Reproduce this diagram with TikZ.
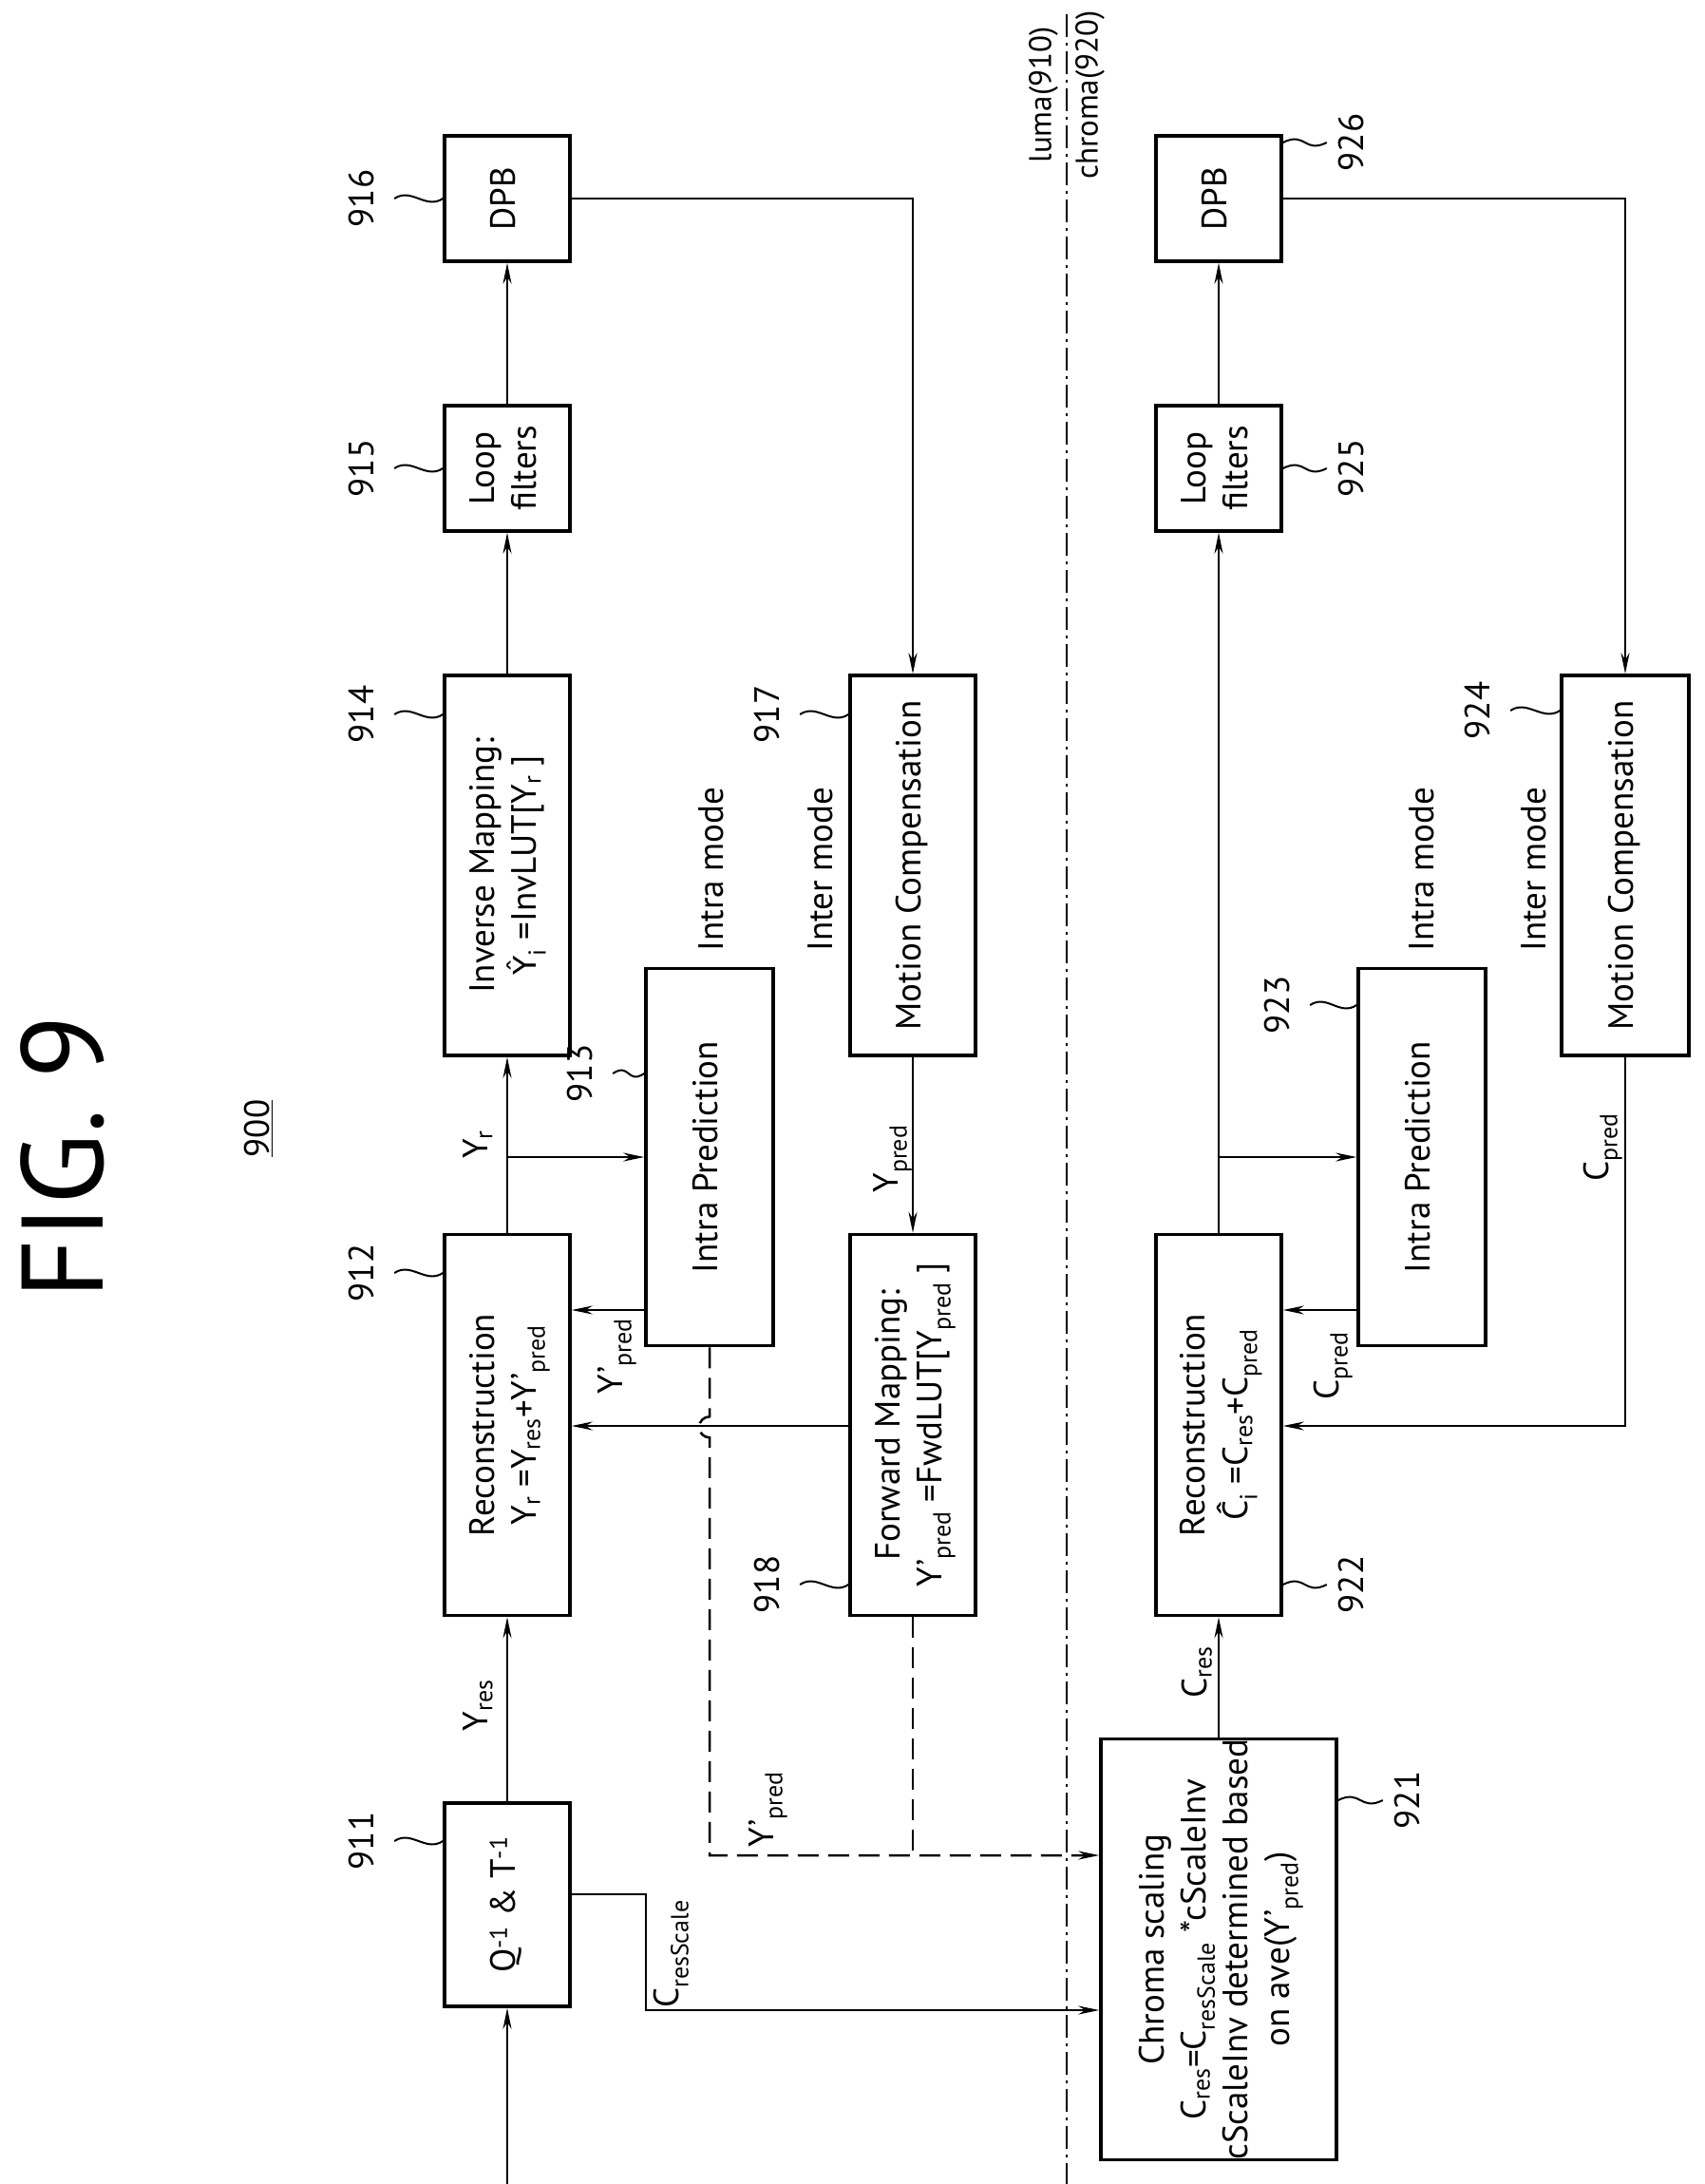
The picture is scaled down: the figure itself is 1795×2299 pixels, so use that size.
\documentclass[tikz,border=0pt]{standalone}
\usepackage{fontspec}
\setmainfont{PT Sans}
\newfontfamily\djv{DejaVu Sans}
\usetikzlibrary{arrows.meta}
\newcommand{\bfs}{\fontsize{37}{44}\selectfont}
\newcommand{\rtx}[1]{\rotatebox{90}{\begin{tabular}{@{}c@{}}#1\end{tabular}}}
\newcommand{\sub}[1]{\textsubscript{#1}}
\begin{document}
\begin{tikzpicture}[x=1pt,y=-1pt,
  box/.style={draw,line width=3.5pt,inner sep=0pt,font=\bfs},
  lb/.style={inner sep=0pt,font=\bfs},
  arr/.style={line width=2.5pt,-{Stealth[length=22pt,width=9pt]}},
  ln/.style={line width=2.5pt},
  dsh/.style={line width=2.5pt,dash pattern=on 22pt off 10pt},
  sq/.style={line width=2pt}]
\useasboundingbox (0,0) rectangle (1795,2299);
% boxes
\node[box,minimum width=132pt,minimum height=214pt] (q911) at (534,2005) {\rtx{Q\textsuperscript{-1} \& T\textsuperscript{-1}}};
\node[box,minimum width=132pt,minimum height=401pt] (rec912) at (534,1500) {\rtx{Reconstruction\\Y\sub{r} =Y\sub{res}+Y'\sub{pred}}};
\node[box,minimum width=134pt,minimum height=397pt] (intra913) at (747,1218) {\rtx{Intra Prediction}};
\node[box,minimum width=132pt,minimum height=400pt] (inv914) at (534,911) {\rtx{Inverse Mapping:\\{\djv\fontsize{33}{40}\selectfont Ŷ}\sub{i} =InvLUT[Y\sub{r} ]}};
\node[box,minimum width=132pt,minimum height=132pt] (loop915) at (534,493) {\rtx{Loop\\filters}};
\node[box,minimum width=132pt,minimum height=132pt] (dpb916) at (534,209) {\rtx{DPB}};
\node[box,minimum width=132pt,minimum height=400pt] (mc917) at (961,911) {\rtx{Motion Compensation}};
\node[box,minimum width=132pt,minimum height=401pt] (fwd918) at (961,1500) {\rtx{Forward Mapping:\\Y'\sub{pred} =FwdLUT[Y\sub{pred} ]}};
\node[box,minimum width=248pt,minimum height=441pt] (cs921) at (1283,2052) {\rtx{Chroma scaling\\C\sub{res}=C\sub{resScale} *cScaleInv\\cScaleInv determined based\\on ave(Y'\sub{pred})}};
\node[box,minimum width=132pt,minimum height=401pt] (rec922) at (1283,1500) {\rtx{Reconstruction\\\^{C}\sub{i} =C\sub{res}+C\sub{pred}}};
\node[box,minimum width=134pt,minimum height=397pt] (intra923) at (1497,1218) {\rtx{Intra Prediction}};
\node[box,minimum width=134pt,minimum height=400pt] (mc924) at (1711,911) {\rtx{Motion Compensation}};
\node[box,minimum width=132pt,minimum height=132pt] (loop925) at (1283,493) {\rtx{Loop\\filters}};
\node[box,minimum width=132pt,minimum height=132pt] (dpb926) at (1283,209) {\rtx{DPB}};
% helper coordinates
\coordinate (in) at (534,2299);
\coordinate (h1) at (0,1379);
\coordinate (h2) at (0,1501);
\coordinate (h3) at (0,1953);
\coordinate (c1) at (680,1994);
\coordinate (c2) at (680,2116);
% luma connectors
\draw[arr] (in) -- (q911.south);
\draw[arr] (q911.north) -- (rec912.south);
\draw[arr] (rec912.north) -- (inv914.south);
\draw[arr] (inv914.north) -- (loop915.south);
\draw[arr] (loop915.north) -- (dpb916.south);
\draw[arr] (rec912.north |- intra913.west) -- (intra913.west);
\draw[arr] (intra913.west |- h1) -- (rec912.east |- h1);
\draw[arr] (dpb916.east) -- (mc917.north |- dpb916.east) -- (mc917.north);
\draw[arr] (mc917.south) -- (fwd918.north);
\draw[arr] (fwd918.west |- h2) -- (rec912.east |- h2);
\draw[dsh,-{Stealth[length=22pt,width=9pt]}] (intra913.south) -- ++(0,73) arc[start angle=-90,end angle=-270,radius=11] -- (intra913.south |- h3) -- (cs921.west |- h3);
\draw[dsh] (fwd918.south) -- (fwd918.south |- h3);
\draw[arr] (q911.east |- c1) -- (c1) -- (c2) -- (cs921.west |- c2);
% chroma connectors
\draw[arr] (cs921.north) -- (rec922.south);
\draw[arr] (rec922.north) -- (loop925.south);
\draw[arr] (loop925.north) -- (dpb926.south);
\draw[arr] (rec922.north |- intra923.west) -- (intra923.west);
\draw[arr] (intra923.west |- h1) -- (rec922.east |- h1);
\draw[arr] (mc924.south) -- (mc924.south |- h2) -- (rec922.east |- h2);
\draw[arr] (dpb926.east) -- (mc924.north |- dpb926.east) -- (mc924.north);
% divider
\draw[line width=2pt,dash pattern=on 24pt off 6pt on 3pt off 6pt] (1123,15) -- (1123,2299);
\node[lb,font=\fontsize{33}{38}\selectfont] (luma) at (1099,100) {\rtx{luma(910)}};
\node[lb,font=\fontsize{33}{38}\selectfont] (chroma) at (1148,100) {\rtx{chroma(920)}};
% title
\node[lb,font=\fontsize{122}{136}\selectfont] (fig) at (66,1218) {\rotatebox{90}{FIG. 9}};
\node[lb] (n900) at (272,1188) {\rotatebox{90}{\underline{900}}};
% signal labels
\node[lb] (lyr) at (505,1205) {\rtx{Y\sub{r}}};
\node[lb] (lyres) at (505,1795) {\rtx{Y\sub{res}}};
\node[lb] (lyp1) at (647,1428) {\rtx{Y'\sub{pred}}};
\node[lb] (lyp) at (937,1220) {\rtx{Y\sub{pred}}};
\node[lb] (lyp2) at (806,1905) {\rtx{Y'\sub{pred}}};
\node[lb] (lcrs) at (706,2057) {\rtx{C\sub{resScale}}};
\node[lb] (lcres) at (1262,1760) {\rtx{C\sub{res}}};
\node[lb] (lcp1) at (1401,1438) {\rtx{C\sub{pred}}};
\node[lb] (lcp2) at (1685,1208) {\rtx{C\sub{pred}}};
\node[lb] (im1) at (753,915) {\rtx{Intra mode}};
\node[lb] (em1) at (868,915) {\rtx{Inter mode}};
\node[lb] (im2) at (1501,915) {\rtx{Intra mode}};
\node[lb] (em2) at (1619,915) {\rtx{Inter mode}};
% reference numbers
\node[lb] (r916) at (385,209) {\rtx{916}};
\node[lb] (r915) at (385,493) {\rtx{915}};
\node[lb] (r914) at (385,752) {\rtx{914}};
\node[lb] (r912) at (385,1340) {\rtx{912}};
\node[lb] (r911) at (385,1938) {\rtx{911}};
\node[lb] (r913) at (615,1130) {\rtx{913}};
\node[lb] (r917) at (812,752) {\rtx{917}};
\node[lb] (r918) at (812,1668) {\rtx{918}};
\node[lb] (r926) at (1427,150) {\rtx{926}};
\node[lb] (r925) at (1427,493) {\rtx{925}};
\node[lb] (r922) at (1427,1668) {\rtx{922}};
\node[lb] (r921) at (1486,1895) {\rtx{921}};
\node[lb] (r923) at (1349,1058) {\rtx{923}};
\node[lb] (r924) at (1560,748) {\rtx{924}};
\foreach \l/\b in {r916/dpb916,r915/loop915,r914/inv914,r912/rec912,r911/q911,r917/mc917,r918/fwd918,r913/intra913,r923/intra923,r924/mc924}{
  \draw[sq] ([xshift=8pt]\l.east) .. controls +(18,-12) and +(-18,12) .. (\b.west |- \l.east);
}
\foreach \l/\b in {r926/dpb926,r925/loop925,r922/rec922,r921/cs921}{
  \draw[sq] (\b.east |- \l.west) .. controls +(24,-12) and +(-24,12) .. ([xshift=-8pt]\l.west);
}
\end{tikzpicture}
\end{document}
